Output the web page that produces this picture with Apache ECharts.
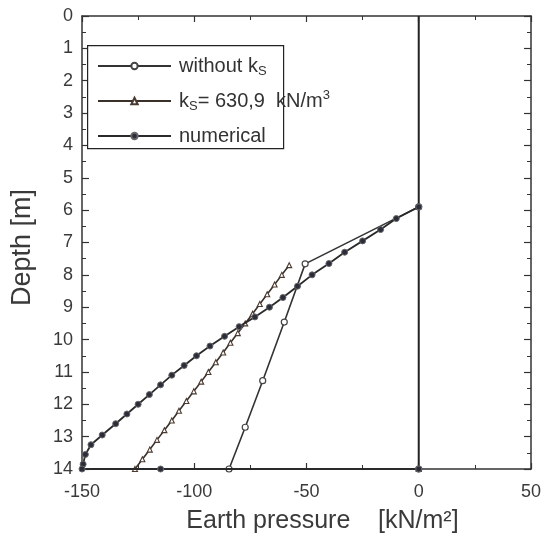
<!DOCTYPE html>
<html>
<head>
<meta charset="utf-8">
<script src="https://cdn.jsdelivr.net/npm/echarts@6/dist/echarts.min.js"></script>
<style>
html,body{margin:0;padding:0;background:#fff;}
#chart{width:544px;height:540px;}
</style>
</head>
<body>
<div id="chart"></div>
<script>
// Series "without kS" (open circles)
const woDepth    = [5.9, 7.66, 9.46, 11.27, 12.71, 14.0, 14.0];
const woPressure = [0, -50.6, -59.9, -69.5, -77.3, -84.5, 0];

// Series "kS = 630,9 kN/m3" (open triangles)
const ksDepth    = [7.7, 8.0, 8.3, 8.6, 8.9, 9.2, 9.5, 9.8, 10.1, 10.4, 10.7, 11.0, 11.3, 11.6, 11.9, 12.2, 12.5, 12.8, 13.1, 13.4, 13.7, 14.0, 14.0];
const ksPressure = [-57.7, -61, -64.2, -67.5, -70.8, -74, -77.3, -80.6, -83.9, -87.1, -90.4, -93.7, -96.9, -100.2, -103.5, -106.8, -110, -113.3, -116.6, -119.8, -123.1, -126.4, 0];

// Series "numerical" (filled dots)
const numDepth    = [5.9, 6.26, 6.6, 6.95, 7.3, 7.65, 8.0, 8.35, 8.7, 9.0, 9.3, 9.6, 9.9, 10.2, 10.5, 10.8, 11.1, 11.4, 11.7, 12.0, 12.3, 12.6, 12.95, 13.25, 13.55, 13.85, 14.0, 14.0, 14.0];
const numPressure = [0, -10, -17, -25, -33, -40, -47.5, -54, -60.5, -66.5, -73, -80, -86.5, -93, -99, -104.5, -110, -115, -120, -125, -130, -135, -141, -146, -148.5, -149.5, -150, -115, 0];

// zero-pressure line along the wall
const zeroDepth    = [0, 14];
const zeroPressure = [0, 0];

const xTicks = [-150, -100, -50, 0, 50];
const yTicks = [0, 1, 2, 3, 4, 5, 6, 7, 8, 9, 10, 11, 12, 13, 14];

function pairs(p, d) { return p.map((v, i) => [v, d[i]]); }

const chart = echarts.init(document.getElementById('chart'), null, {renderer: 'canvas'});
const axisCol = '#333';
const font = 'Liberation Sans, Arial, Helvetica, sans-serif';

const xBase = {
  type: 'value', min: xTicks[0], max: xTicks[xTicks.length - 1], interval: 50,
  axisLine: {show: true, onZero: false, lineStyle: {color: axisCol, width: 1.5}},
  axisTick: {show: true, inside: true, length: 6, lineStyle: {color: axisCol, width: 1.2}},
  minorTick: {show: true, splitNumber: 2, length: 4, lineStyle: {color: axisCol, width: 1}},
  splitLine: {show: false}
};
const yBase = {
  type: 'value', inverse: true, min: yTicks[0], max: yTicks[yTicks.length - 1], interval: 1,
  axisLine: {show: true, onZero: false, lineStyle: {color: axisCol, width: 1.5}},
  axisTick: {show: true, inside: true, length: 7, lineStyle: {color: axisCol, width: 1.2}},
  minorTick: {show: true, splitNumber: 2, length: 4, lineStyle: {color: axisCol, width: 1}},
  splitLine: {show: false}
};

const labelStyle = {color: '#3a3a3a', fontSize: 18, fontFamily: font};

chart.setOption({
  animation: false,
  backgroundColor: '#fff',
  grid: {left: 82, right: 12, top: 16, bottom: 71, containLabel: false},
  graphic: [{
    type: 'rect', left: 87, top: 45, z: 5,
    shape: {width: 196, height: 103},
    style: {fill: '#fff', stroke: '#222', lineWidth: 1.2}
  }],
  legend: {
    data: ['without', 'ks', 'numerical'],
    orient: 'vertical',
    left: 97, top: 54,
    padding: 0,
    itemWidth: 73, itemHeight: 8, itemGap: 11,
    z: 10,
    textStyle: {
      color: '#333', fontSize: 20, fontFamily: font, lineHeight: 24, padding: [0, 0, 0, 3],
      rich: {
        a: {fontSize: 20, fontFamily: font, color: '#333', lineHeight: 24},
        sub: {fontSize: 13, fontFamily: font, color: '#333', lineHeight: 12, verticalAlign: 'bottom'},
        sup: {fontSize: 13, fontFamily: font, color: '#333', lineHeight: 12, verticalAlign: 'top'}
      }
    },
    formatter: function (n) {
      if (n === 'without') return '{a|without k}{sub|S}';
      if (n === 'ks') return '{a|k}{sub|S}{a|= 630,9  kN/m}{sup|3}';
      return '{a|numerical}';
    }
  },
  xAxis: [
    Object.assign({}, xBase, {
      position: 'bottom',
      axisLabel: Object.assign({margin: 14}, labelStyle),
      name: 'Earth pressure    [kN/m²]', nameLocation: 'middle', nameGap: 40,
      nameTextStyle: {color: '#3a3a3a', fontSize: 25, fontFamily: font, padding: [0, 0, 0, 32]}
    }),
    Object.assign({}, xBase, {position: 'top', axisLabel: {show: false}})
  ],
  yAxis: [
    Object.assign({}, yBase, {
      position: 'left',
      axisLabel: Object.assign({margin: 9}, labelStyle),
      name: 'Depth [m]', nameLocation: 'middle', nameGap: 46,
      nameTextStyle: {color: '#3a3a3a', fontSize: 27, fontFamily: font, padding: [0, 10, 0, 0]}
    }),
    Object.assign({}, yBase, {position: 'right', axisLabel: {show: false}})
  ],
  series: [
    {
      name: 'zero', type: 'line', xAxisIndex: 0, yAxisIndex: 0,
      data: pairs(zeroPressure, zeroDepth), symbol: 'none', silent: true,
      lineStyle: {color: '#222', width: 2}, z: 1
    },
    {
      name: 'without', type: 'line', data: pairs(woPressure, woDepth),
      symbol: 'circle', symbolSize: 6, showAllSymbol: true,
      itemStyle: {color: '#fff', borderColor: '#444', borderWidth: 1.2},
      lineStyle: {color: '#333', width: 1.6}, z: 3
    },
    {
      name: 'ks', type: 'line', data: pairs(ksPressure, ksDepth),
      symbol: 'triangle', symbolSize: 5, showAllSymbol: true,
      itemStyle: {color: '#fff', borderColor: '#4a3a30', borderWidth: 1.1},
      lineStyle: {color: '#3a302a', width: 1.6}, z: 3
    },
    {
      name: 'numerical', type: 'line', data: pairs(numPressure, numDepth),
      symbol: 'circle', symbolSize: 6, showAllSymbol: true,
      itemStyle: {color: '#2b2d3a', borderColor: '#666', borderWidth: 1},
      lineStyle: {color: '#2a2a2a', width: 1.8}, z: 4
    }
  ]
});
</script>
</body>
</html>
